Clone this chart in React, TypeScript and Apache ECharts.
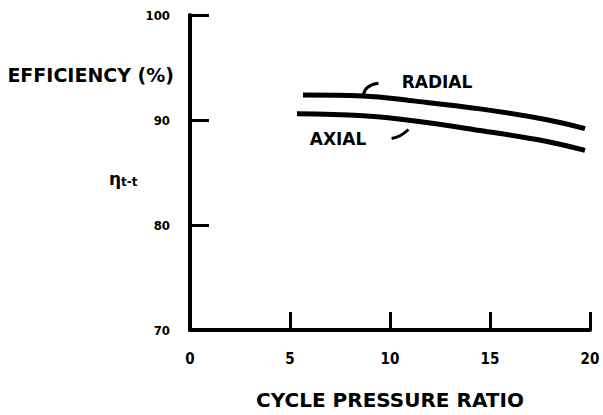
import React, { useEffect, useRef } from "react";
import * as echarts from "echarts";

const radialRatio = [5.65, 8.65, 11.15, 14.5, 17.85, 19.75];
const radialEff = [92.38, 92.29, 91.82, 91.06, 90.03, 89.18];
const axialRatio = [5.35, 8.65, 11.15, 14.5, 17.85, 19.75];
const axialEff = [90.6, 90.4, 89.93, 89.0, 87.96, 87.1];
const radialLeaderX = [8.67, 8.87, 9.42];
const radialLeaderY = [92.4, 93.1, 93.5];
const axialLeaderX = [10.08, 10.5, 10.92];
const axialLeaderY = [88.24, 88.5, 89.1];
const xTicks = [0, 5, 10, 15, 20];
const yTicks = [70, 80, 90, 100];

const zip = (xs: number[], ys: number[]) => xs.map((x, i) => [x, ys[i]]);

const FONT = "DejaVu Sans";
const NARROW = "DejaVu Sans Condensed, Liberation Sans Narrow, DejaVu Sans, sans-serif";

export default function App() {
  const ref = useRef<HTMLDivElement>(null);
  useEffect(() => {
    const chart = echarts.init(ref.current!, null, { renderer: "svg" });
    chart.setOption({
      animation: false,
      backgroundColor: "#ffffff",
      grid: { left: 190, top: 15, right: 13, bottom: 81 },
      xAxis: {
        type: "value",
        min: xTicks[0],
        max: xTicks[xTicks.length - 1],
        interval: 5,
        splitLine: { show: false },
        axisLine: { show: true, lineStyle: { color: "#000", width: 4 } },
        axisTick: { show: true, inside: true, length: 18, lineStyle: { color: "#000", width: 3 } },
        axisLabel: { color: "#000", fontFamily: NARROW, fontWeight: "bold", fontSize: 15, margin: 21 },
        name: "CYCLE PRESSURE RATIO",
        nameLocation: "middle",
        nameGap: 60,
        nameTextStyle: { color: "#000", fontFamily: FONT, fontWeight: "bold", fontSize: 20 },
      },
      yAxis: {
        type: "value",
        min: yTicks[0],
        max: yTicks[yTicks.length - 1],
        interval: 10,
        splitLine: { show: false },
        axisLine: { show: true, lineStyle: { color: "#000", width: 4 } },
        axisTick: { show: true, inside: true, length: 19, lineStyle: { color: "#000", width: 3 } },
        axisLabel: { color: "#000", fontFamily: NARROW, fontWeight: "bold", fontSize: 13, margin: 20 },
      },
      graphic: [
        {
          type: "text",
          right: 603 - 174,
          top: 65,
          style: { text: "EFFICIENCY (%)", fill: "#000", font: `bold 19px ${FONT}` },
        },
        {
          type: "text",
          left: 109,
          top: 170,
          style: {
            text: "{a|η}{b|t-t}",
            fill: "#000",
            rich: {
              a: { fontFamily: FONT, fontWeight: "bold", fontSize: 17, fill: "#000" },
              b: { fontFamily: FONT, fontWeight: "bold", fontSize: 12, fill: "#000", padding: [6, 0, 0, 0] },
            },
          },
        },
      ],
      series: [
        {
          type: "line",
          name: "RADIAL",
          data: zip(radialRatio, radialEff),
          smooth: 0.4,
          symbol: "none",
          lineStyle: { color: "#000", width: 5 },
          markPoint: {
            symbol: "circle",
            symbolSize: 0,
            data: [{ coord: [12.35, 93.6], value: "RADIAL" }],
            label: {
              show: true,
              formatter: "RADIAL",
              color: "#000",
              fontFamily: FONT,
              fontWeight: "bold",
              fontSize: 17,
              position: "inside",
            },
          },
        },
        {
          type: "line",
          name: "AXIAL",
          data: zip(axialRatio, axialEff),
          smooth: 0.4,
          symbol: "none",
          lineStyle: { color: "#000", width: 5 },
          markPoint: {
            symbol: "circle",
            symbolSize: 0,
            data: [{ coord: [7.4, 88.2], value: "AXIAL" }],
            label: {
              show: true,
              formatter: "AXIAL",
              color: "#000",
              fontFamily: FONT,
              fontWeight: "bold",
              fontSize: 17,
              position: "inside",
            },
          },
        },
        {
          type: "line",
          data: zip(radialLeaderX, radialLeaderY),
          smooth: true,
          symbol: "none",
          lineStyle: { color: "#000", width: 3 },
        },
        {
          type: "line",
          data: zip(axialLeaderX, axialLeaderY),
          smooth: true,
          symbol: "none",
          lineStyle: { color: "#000", width: 3 },
        },
      ],
    });
    return () => chart.dispose();
  }, []);
  return (
    <div
      ref={ref}
      style={{ position: "fixed", left: 0, top: 0, width: 603, height: 415, background: "#fff" }}
    />
  );
}
